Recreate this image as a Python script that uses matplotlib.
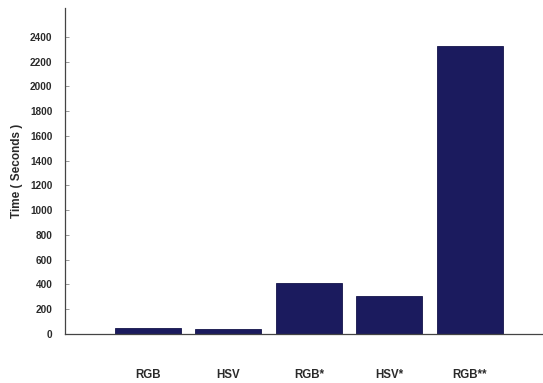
import matplotlib
matplotlib.use("Agg")
import matplotlib.pyplot as plt

categories = ["RGB", "HSV", "RGB*", "HSV*", "RGB**"]
times = [45, 42, 412, 308, 2330]
yticks = list(range(0, 2401, 200))

plt.rcParams['font.family'] = ['Liberation Sans', 'DejaVu Sans']

fig = plt.figure(figsize=(5.43, 3.83), dpi=100)
ax = fig.add_axes([65/543, 49/383, 478/543, 326/383])

x = list(range(len(categories)))
ax.bar(x, times, width=0.82, color="#1b1b5e", edgecolor="#14144a", linewidth=0.6)

ax.set_xlim(-1.03, 4.91)
ax.set_ylim(0, 2634)
ax.set_yticks(yticks)
ax.set_yticklabels([str(v) for v in yticks], fontsize=7.2, fontweight='bold', color="#2a2a2a")
ax.set_xticks(x)
ax.set_xticklabels(categories, fontsize=8.3, fontweight='bold', color="#2a2a2a")
ax.tick_params(axis='x', length=0, pad=25)
ax.tick_params(axis='y', direction='in', length=3, width=0.6, color="#888888", pad=9)

for s in ["top", "right"]:
    ax.spines[s].set_visible(False)
for s in ["left", "bottom"]:
    ax.spines[s].set_color("#444444")
    ax.spines[s].set_linewidth(0.9)

ax.set_ylabel("Time ( Seconds )", fontsize=8.5, fontweight='bold', color="#2a2a2a", labelpad=5)

fig.savefig("out.png", dpi=100)
